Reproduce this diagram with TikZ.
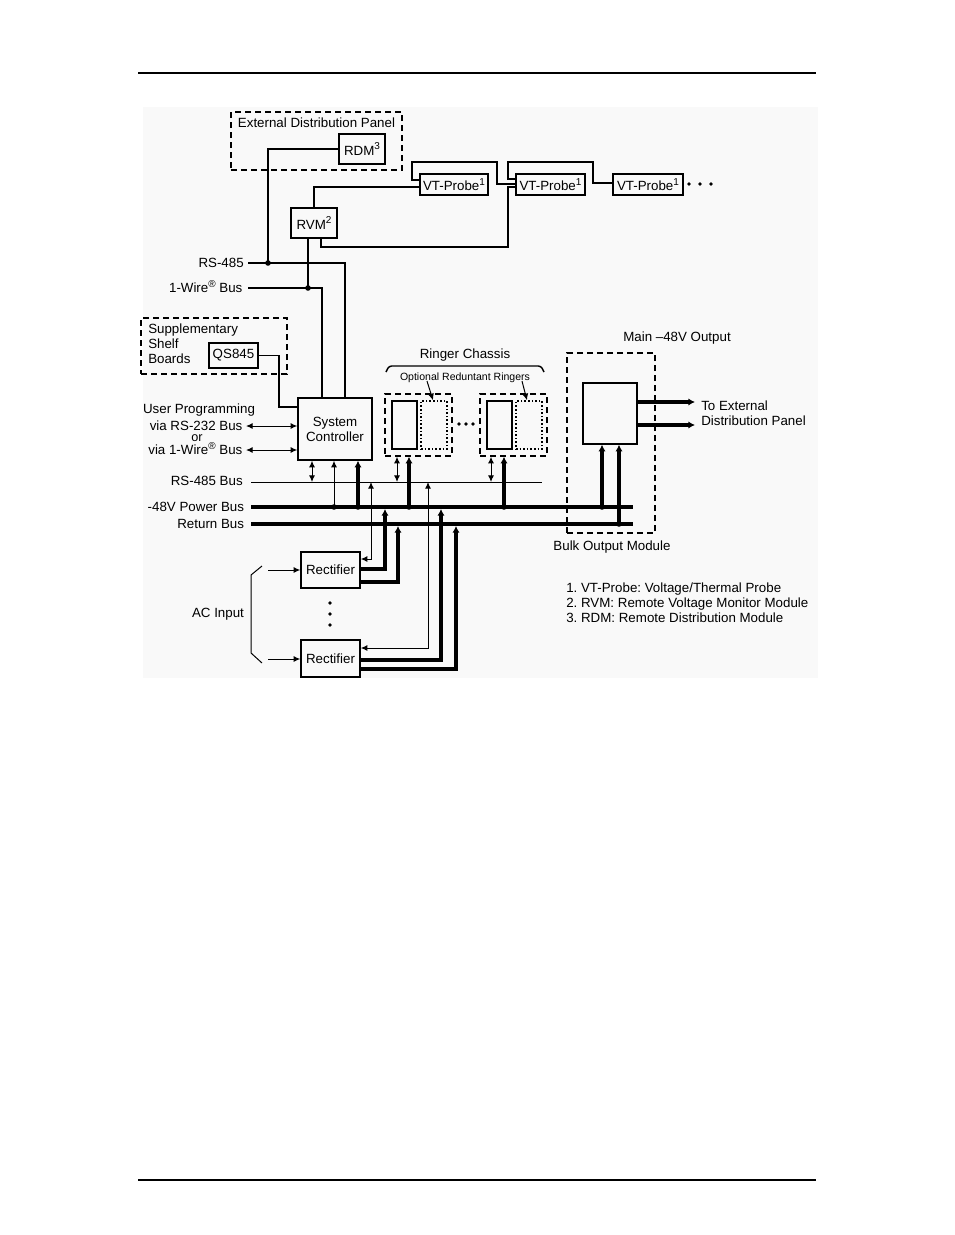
\documentclass[tikz,border=0pt]{standalone}
\usepackage{fontspec}
\setmainfont{Liberation Sans}
\usetikzlibrary{arrows.meta}
\newcommand\supmark[1]{\raisebox{0.42em}{\fontsize{7.5}{8}\selectfont #1}}
\begin{document}
\frenchspacing
\begin{tikzpicture}[x=0.75pt,y=-0.75pt,
  box/.style={draw,line width=1.1pt,inner sep=0pt,align=center},
  ln/.style={line width=1.1pt},
  fine/.style={line width=0.75pt},
  busline/.style={line width=3pt},
  dashbox/.style={draw,line width=1.1pt,dash pattern=on 4.5pt off 3pt,inner sep=0pt},
  dotbox/.style={draw,line width=1.1pt,dash pattern=on 1.2pt off 1.5pt,inner sep=0pt},
  lbl/.style={inner sep=0pt,text height=7.2pt,text depth=0pt},
  mlbl/.style={inner sep=0pt,align=left,font=\fontsize{10}{11.25}\selectfont},
  >={Latex[length=5pt,width=4.5pt]},
  dbl/.style={fine,{Latex[length=5pt,width=4.5pt]}-{Latex[length=5pt,width=4.5pt]}},
  arr/.style={fine,-{Latex[length=5pt,width=4.5pt]}},
  tarr/.style={busline,-{Latex[length=5pt,width=5.5pt]}},
  jdot/.style={circle,fill=black,inner sep=0pt,minimum size=4.2pt},
  sdot/.style={circle,fill=black,inner sep=0pt,minimum size=2.8pt},
]
\useasboundingbox (0,0) rectangle (954,1235);
% page rules and background
\fill[black!2.5] (143,107) rectangle (818,678);
\draw[line width=0.9pt] (138,73) -- (816,73);
\draw[line width=0.9pt] (138,1180) -- (816,1180);

% dashed frames
\node[dashbox,minimum width=128.25pt,minimum height=43.5pt] (extp) at (316.5,141) {};
\node[lbl] (extpt) at (316.5,123) {External Distribution Panel};
\node[dashbox,minimum width=109.5pt,minimum height=42pt] (supp) at (214,346) {};
\node[mlbl,anchor=west] (suppt) at (148,344) {Supplementary\\Shelf\\Boards};
\node[dashbox,minimum width=66pt,minimum height=135pt] (bulkf) at (611,443) {};
\node[lbl] (mainout) at (677,337) {Main \textendash48V Output};
\node[lbl] (bulkt) at (612,546) {Bulk Output Module};

% boxes
\node[box,minimum width=34.5pt,minimum height=22.5pt] (rdm) at (362,149) {RDM\supmark{3}};
\node[box,minimum width=34.5pt,minimum height=22.5pt] (rvm) at (314,223) {RVM\supmark{2}};
\node[box,minimum width=51pt,minimum height=15.75pt] (vt1) at (454,184.5) {VT-Probe\supmark{1}};
\node[box,minimum width=51.75pt,minimum height=15.75pt] (vt2) at (550.5,184.5) {VT-Probe\supmark{1}};
\node[box,minimum width=52.5pt,minimum height=15.75pt] (vt3) at (648,184.5) {VT-Probe\supmark{1}};
\node[box,minimum width=36.75pt,minimum height=18.75pt] (qs) at (233.5,355.5) {QS845};
\node[box,minimum width=55.5pt,minimum height=46.5pt,font=\fontsize{10}{11.25}\selectfont] (sc) at (335,429) {System\\Controller};
\node[box,minimum width=44.25pt,minimum height=27pt] (rect1) at (330.5,570) {Rectifier};
\node[box,minimum width=44.25pt,minimum height=27.75pt] (rect2) at (330.5,658.5) {Rectifier};
\node[box,minimum width=40.5pt,minimum height=45.75pt] (bulk) at (610,413.5) {};

% ringers
\node[lbl] (ringt) at (465,354) {Ringer Chassis};
\node[lbl,font=\fontsize{7.9}{9}\selectfont,text height=5.7pt] (opt) at (465,377) {Optional Reduntant Ringers};
\node[dashbox,minimum width=50.25pt,minimum height=46.5pt] (rg1) at (418.5,425) {};
\node[box,minimum width=18.75pt,minimum height=36pt] (rs1) at (404.5,425) {};
\node[dotbox,minimum width=19.5pt,minimum height=36pt] (rd1) at (434,425) {};
\node[dashbox,minimum width=50.25pt,minimum height=46.5pt] (rg2) at (513.5,425) {};
\node[box,minimum width=18.75pt,minimum height=36pt] (rs2) at (499.5,425) {};
\node[dotbox,minimum width=19.5pt,minimum height=36pt] (rd2) at (529,425) {};
\draw[ln,rounded corners=2] (386,372) -- (389,366) -- (541,366) -- (544,372);
\draw[arr] (opt.south -| 427,0) -- (rd1.north -| 433,0);
\draw[arr] (opt.south -| 522,0) -- (rd2.north -| 527,0);
\node[sdot] (hd1) at (459,424) {};
\node[sdot] (hd2) at (466,424) {};
\node[sdot] (hd3) at (473,424) {};

% VT-probe dots
\node[sdot] (vd1) at (689,184) {};
\node[sdot] (vd2) at (700,184) {};
\node[sdot] (vd3) at (711,184) {};

% side labels
\node[lbl,anchor=east,inner xsep=3pt] (l485) at (248,263) {RS-485};
\node[lbl,anchor=east,inner xsep=4pt] (l1w) at (248,288) {1-Wire\supmark{\textregistered} Bus};
\node[lbl] (lup) at (199,409) {User Programming};
\node[lbl,anchor=east,inner xsep=2.5pt] (lrs232) at (246,426) {via RS-232 Bus};
\node[lbl,font=\fontsize{9.5}{10}\selectfont,text height=5pt] (lor) at (197,438) {or};
\node[lbl,anchor=east,inner xsep=2.5pt] (l1wb) at (246,450) {via 1-Wire\supmark{\textregistered} Bus};
\node[lbl,anchor=east,inner xsep=6pt] (lrsb) at (251,481) {RS-485 Bus};
\node[lbl,anchor=east,inner xsep=5pt] (lpwr) at (251,507) {-48V Power Bus};
\node[lbl,anchor=east,inner xsep=5pt] (lret) at (251,524) {Return Bus};
\node[lbl] (acin) at (218,613) {AC Input};
\node[mlbl,anchor=west] (toext) at (701,413.5) {To External\\Distribution Panel};
\node[mlbl,anchor=west] (legend) at (566,603) {1. VT-Probe: Voltage/Thermal Probe\\2. RVM: Remote Voltage Monitor Module\\3. RDM: Remote Distribution Module};

% junctions
\coordinate (j485) at (268,263);
\coordinate (j1w) at (308,288);

% top wiring
\draw[ln] (rdm.west) -- (268,149) -- (j485);
\draw[ln] (l485.east) -- (345,263) -- (sc.north -| 345,0);
\draw[ln] (l1w.east) -- (322,288) -- (sc.north -| 322,0);
\draw[ln] (rvm.south -| 308,0) -- (j1w);
\node[jdot] at (j485) {};
\node[jdot] at (j1w) {};
\draw[ln] (rvm.north) -- (314,187) -- (vt1.west |- 0,187);
\draw[ln] (rvm.south -| 321,0) -- (321,247) -- (508,247) -- (508,187) -- (vt2.west |- 0,187);
\draw[ln] (vt1.west |- 0,180) -- (412,180) -- (412,162) -- (497,162) -- (497,184) -- (vt2.west |- 0,184);
\draw[ln] (vt2.west |- 0,179) -- (508,179) -- (508,162) -- (593,162) -- (593,183) -- (vt3.west |- 0,183);
\draw[ln] (qs.east) -- (279,355.5) -- (279,407) -- (sc.west |- 0,407);
\draw[dbl] (lrs232.east) -- (sc.west |- lrs232.east);
\draw[dbl] (l1wb.east) -- (sc.west |- l1wb.east);

% buses
\coordinate (bus485) at (0,482);
\coordinate (busP) at (0,507);
\coordinate (busR) at (0,524);
\draw[fine] (lrsb.east |- bus485) -- (542,0 |- bus485);
\draw[busline] (lpwr.east |- busP) -- (633,0 |- busP);
\draw[busline] (lret.east |- busR) -- (633,0 |- busR);

% system controller to buses
\draw[dbl] (sc.south -| 312,0) -- (312,0 |- bus485);
\draw[arr] (334,0 |- busP) -- (sc.south -| 334,0);
\draw[tarr] (358,0 |- busP) -- (sc.south -| 358,0);
\node[jdot] at (334,507) {};
\node[jdot] at (358,507) {};

% ringers to buses
\draw[dbl] (rg1.south -| 397,0) -- (397,0 |- bus485);
\draw[tarr] (409,0 |- busP) -- (rg1.south -| 409,0);
\node[jdot] at (409,507) {};
\draw[dbl] (rg2.south -| 491,0) -- (491,0 |- bus485);
\draw[tarr] (504,0 |- busP) -- (rg2.south -| 504,0);
\node[jdot] at (504,507) {};

% bulk output
\draw[tarr] (602,0 |- busP) -- (bulk.south -| 602,0);
\draw[tarr] (619,0 |- busR) -- (bulk.south -| 619,0);
\node[jdot] at (602,507) {};
\node[jdot] at (619,524) {};
\coordinate (o1) at (695,402);
\coordinate (o2) at (695,425);
\draw[tarr] (bulk.east |- o1) -- (o1);
\draw[tarr] (bulk.east |- o2) -- (o2);

% rectifiers
\draw[dbl] (rect1.east |- 0,559) -- (371,559) -- (371,0 |- bus485);
\draw[tarr] (rect1.east |- 0,569) -- (385,569) -- (385,509);
\draw[tarr] (rect1.east |- 0,582) -- (398,582) -- (398,526);
\draw[dbl] (rect2.east |- 0,648) -- (428,648) -- (428,0 |- bus485);
\draw[tarr] (rect2.east |- 0,660) -- (441,660) -- (441,509);
\draw[tarr] (rect2.east |- 0,669) -- (456,669) -- (456,526);
\node[sdot] (vdot1) at (330,603) {};
\node[sdot] (vdot2) at (330,614) {};
\node[sdot] (vdot3) at (330,625) {};

% AC input
\draw[fine] (262,566) -- (251,575) -- (251,653) -- (262,663);
\coordinate (ac1) at (268,570);
\coordinate (ac2) at (268,659);
\draw[arr] (ac1) -- (rect1.west |- ac1);
\draw[arr] (ac2) -- (rect2.west |- ac2);
\end{tikzpicture}
\end{document}
